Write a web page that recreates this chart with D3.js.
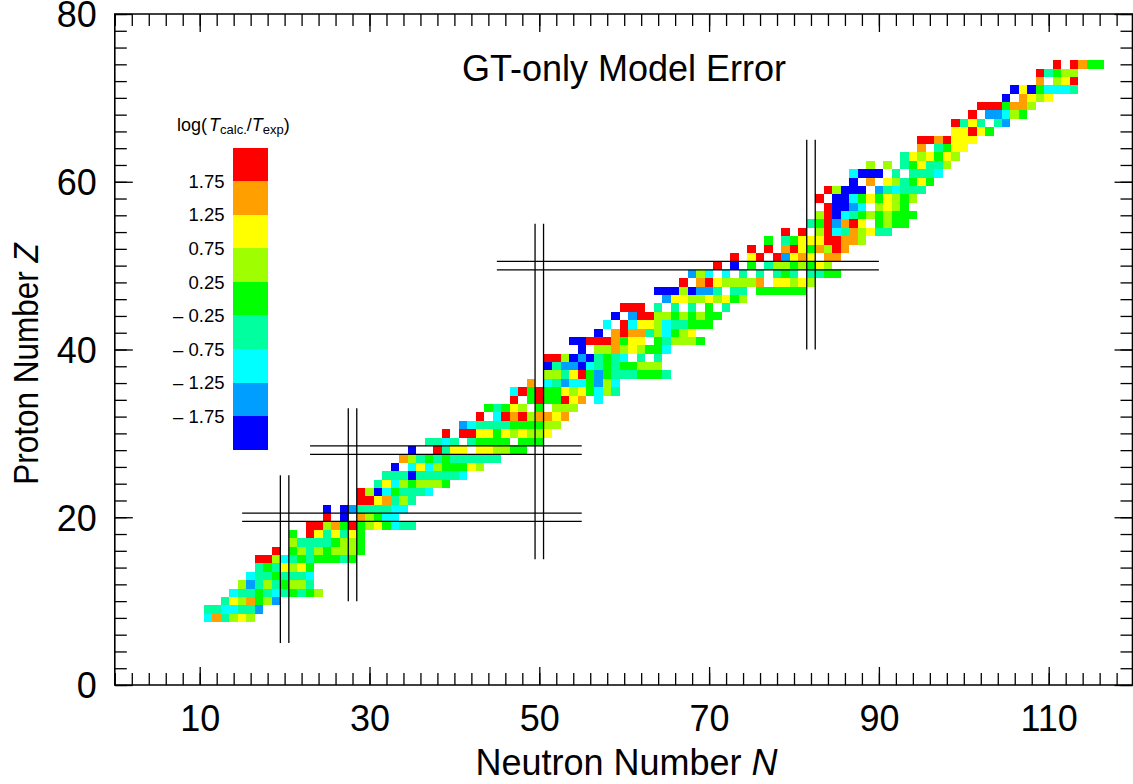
<!DOCTYPE html>
<html>
<head>
<meta charset="utf-8">
<script src="https://cdn.jsdelivr.net/npm/d3@7"></script>
<style>
html,body{margin:0;padding:0;background:#fff;overflow:hidden}
svg{display:block}
text{font-family:"Liberation Sans",Arial,sans-serif;fill:#000}
.domain{display:none}
</style>
</head>
<body>
<div id="chart"></div>
<script>
// Proton number of each row, first neutron number in the row, and bin letter for each nucleus ("." = no data)
const protonNumbers = [8,9,10,11,12,13,14,15,16,17,18,19,20,21,22,23,24,25,26,27,28,29,30,31,32,33,34,35,36,37,38,39,40,41,42,43,44,45,46,47,48,49,50,51,52,53,54,55,56,57,58,59,60,61,62,63,64,65,66,67,68,69,70,71,72,73,74];
const firstNeutron = [11,11,13,14,15,16,17,17,19,21,21,23,25,25,29,29,31,32,33,34,35,37,39,41,43,44,47,47,49,51,51,51,55,54,57,58,59,60,65,64,67,68,71,73,75,77,79,82,83,84,83,84,87,87,89,93,95,95,99,99,101,102,105,106,109,109,111];
const rowCells = [
"COTLYL","TTCCTTB","TYLOGLB","CTTGTCTGTGL","LBTLTGLLT","CTTGTTTC","TGTYLYG","RRLCTGTGGGTG","R.GLTLGLLLG","LTTTTGLLG",
"G.RYTYTYG","RRLOGRGLYGCTT","R.D.OLGCC","D.DBTTTTCC","RRYOTLT","RLDCGTTTC","TYCLGLLLG","TTTDTTTTTC","D.CYCLGGGYL","OLTGTGTTTTTT",
"D..RTYY.YYLLGG","TTCT.TGGGG.GGG","R.RRYYGYLYLLY","BCTTTTGGGGLL","R.CRORLOOYO","GTGYL.G.LLL","R.GRGGRYO.C","CRGRGGYLYGCLT","O.CTBCCGBLC","LLTYRGBGTTTGGGT",
"DTBBDCTGTGGLLL","RRLDBDTGTC.T.T","D.LLOLYLGGC","DDRRROGYY.GTLLLG","D.OROOTLCGLY","C.RCYYLCTTGGG","D.BRRLLGLGLGG","RRR.T.T.T.G.T","BYYLLYLYGL","DDDLDBBT.TT.GGGGGG",
"R.ORYLLLLO.YYLYL","BLC.C.T.T.TGT.TTGG","R.D.G.TLLGLGYL","R.YR.RBYOY.OO","R.R.ORYGOLRO","G.TGYYYRROOL","R.R.LRCTOLYTT","TGRBORY.GLGG","LRDCTGLGLGGG","RDDBC.LYLG",
"R.DDCGYGYLGL","RLDDD.BTCTTT","D.O.YLTGYG","CDDD.T.TTTC","L.L.TGYTTL","TYLYGYL","O.TGYY","RRORYYY","YYRYG","RTYT.TB",
"R.BBCLG","RRRGOOL","D.OYLY","DYDGCCCT","O.LYR","RTGLL","R.ROGG"];
// Mid value of each bin, low to high
const binLetters = ["D","B","C","T","G","L","Y","O","R"];
const binValues = [-2,-1.5,-1,-0.5,0,0.5,1,1.5,2];
const binEdges = [-1.75,-1.25,-0.75,-0.25,0.25,0.75,1.25,1.75];
const binColors = ["#0000ff","#009fff","#00ffff","#00ff9f","#00ff00","#9fff00","#ffff00","#ff9f00","#ff0000"];
const legendLabels = ["\u2013 1.75","\u2013 1.25","\u2013 0.75","\u2013 0.25","0.25","0.75","1.25","1.75"];
const xMajor = [10,30,50,70,90,110];
const yMajor = [0,20,40,60,80];
// Magic-number guide lines: [magic number, low end, high end]
const neutronGuides = [[20,5,25],[28,10,33],[50,15,55],[82,40,65]];
const protonGuides = [[20,15,55],[28,23,55],[50,45,90]];

const W = 1133, H = 784;
const x = d3.scaleLinear().domain([0,120]).range([114.8,1133.6]);
const y = d3.scaleLinear().domain([0,80]).range([685,14]);
const color = d3.scaleThreshold().domain(binEdges).range(binColors);
const letterValue = new Map(binLetters.map((l,i)=>[l,binValues[i]]));

const cells = [];
protonNumbers.forEach((z,i)=>{
  Array.from(rowCells[i]).forEach((c,j)=>{
    if(c!==".") cells.push({n:firstNeutron[i]+j,z,v:letterValue.get(c)});
  });
});

const svg = d3.select("#chart").append("svg").attr("width",W).attr("height",H);

// cells
svg.append("g").attr("shape-rendering","crispEdges").selectAll("rect").data(cells).join("rect")
  .attr("x",d=>x(d.n-0.5)).attr("y",d=>y(d.z+0.5))
  .attr("width",d=>x(d.n+0.5)-x(d.n-0.5)).attr("height",d=>y(d.z-0.5)-y(d.z+0.5))
  .attr("fill",d=>color(d.v));

// guides
const guides = svg.append("g").attr("stroke","#000").attr("stroke-width",1.3);
neutronGuides.forEach(([m,a,b])=>[m-0.5,m+0.5].forEach(v=>{
  guides.append("line").attr("x1",x(v)).attr("x2",x(v)).attr("y1",y(a)).attr("y2",y(b));
}));
protonGuides.forEach(([m,a,b])=>[m-0.5,m+0.5].forEach(v=>{
  guides.append("line").attr("x1",x(a)).attr("x2",x(b)).attr("y1",y(v)).attr("y2",y(v));
}));

// axes
const minorX = d3.range(0,121,2), minorY = d3.range(0,81,2);
const sw = 1.3;
function style(g){g.selectAll("line").attr("stroke","#000").attr("stroke-width",sw);}
const mk = (gen,t)=>svg.append("g").attr("transform",t).call(gen).call(style);
mk(d3.axisBottom(x).tickValues(minorX).tickSize(-12).tickFormat(""),`translate(0,${y(0)})`);
mk(d3.axisTop(x).tickValues(minorX).tickSize(-12).tickFormat(""),`translate(0,${y(80)})`);
mk(d3.axisLeft(y).tickValues(minorY).tickSize(-12).tickFormat(""),`translate(${x(0)},0)`);
mk(d3.axisRight(y).tickValues(minorY).tickSize(-12).tickFormat(""),`translate(${W-0.5},0)`);
mk(d3.axisTop(x).tickValues(xMajor).tickSize(-18).tickFormat(""),`translate(0,${y(80)})`);
mk(d3.axisRight(y).tickValues(yMajor).tickSize(-18).tickFormat(""),`translate(${W-0.5},0)`);
const bx = mk(d3.axisBottom(x).tickValues(xMajor).tickSize(-18).tickPadding(20),`translate(0,${y(0)})`);
const ly = mk(d3.axisLeft(y).tickValues(yMajor).tickSize(-18).tickPadding(18),`translate(${x(0)},0)`);
bx.selectAll("text").attr("font-size",36).attr("font-family",'"Liberation Sans"');
ly.selectAll("text").attr("font-size",36).attr("font-family",'"Liberation Sans"').attr("dy","0.36em");
svg.append("path").attr("fill","none").attr("stroke","#000").attr("stroke-width",1.6)
  .attr("d",`M${x(0)},${y(0)}H${W-0.5}V${y(80)}H${x(0)}Z`);

// titles
svg.append("text").attr("x",624).attr("y",80.5).attr("text-anchor","middle").attr("font-size",36).text("GT-only Model Error");
const xt = svg.append("text").attr("x",626.5).attr("y",775).attr("text-anchor","middle").attr("font-size",36);
xt.append("tspan").text("Neutron Number ");
xt.append("tspan").attr("font-style","italic").text("N");
const yt = svg.append("text").attr("transform","translate(37.5,364) rotate(-90) scale(0.9,1)").attr("text-anchor","middle").attr("font-size",35);
yt.append("tspan").text("Proton Number ");
yt.append("tspan").attr("font-style","italic").text("Z");

// legend
const legY = d3.scaleLinear().domain([0,9]).range([449.7,147.7]);
const leg = svg.append("g");
leg.append("g").attr("shape-rendering","crispEdges").selectAll("rect").data(binColors).join("rect")
  .attr("x",233.3).attr("width",34.4)
  .attr("y",(d,i)=>legY(i+1)).attr("height",(d,i)=>legY(i)-legY(i+1))
  .attr("fill",d=>d);
leg.selectAll("text.lab").data(legendLabels).join("text").attr("class","lab")
  .attr("x",224.5).attr("y",(d,i)=>legY(i+1)).attr("dy","0.36em")
  .attr("text-anchor","end").attr("font-size",18.5).text(d=>d);
const lt = leg.append("text").attr("x",177).attr("y",131).attr("font-size",18);
lt.append("tspan").text("log(");
lt.append("tspan").attr("font-style","italic").attr("dx",2).text("T");
lt.append("tspan").attr("font-size",13).attr("dy",3).text("calc.");
lt.append("tspan").attr("dy",-3).text("/");
lt.append("tspan").attr("font-style","italic").text("T");
lt.append("tspan").attr("font-size",13).attr("dy",3).text("exp");
lt.append("tspan").attr("dy",-3).text(")");
</script>
</body>
</html>
